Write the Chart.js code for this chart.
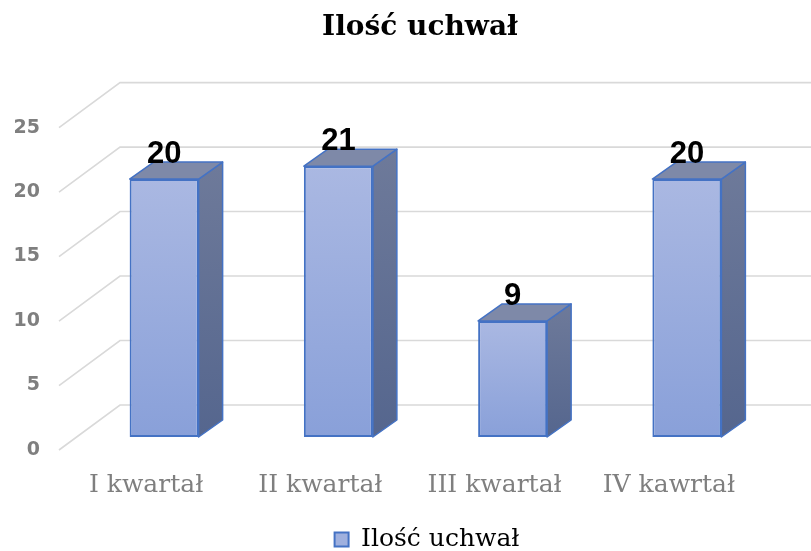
<!DOCTYPE html>
<html><head><meta charset="utf-8">
<script src="https://cdn.jsdelivr.net/npm/chart.js@4.4.1/dist/chart.umd.min.js"></script>
<style>html,body{margin:0;padding:0;background:#fff;overflow:hidden}#wrap{width:811px;height:551px}</style>
</head><body><div id="wrap"><canvas id="c" width="811" height="551"></canvas></div>
<script>
const categories = ['I kwartał', 'II kwartał', 'III kwartał', 'IV kawrtał'];
const values = [20, 21, 9, 20];
const seriesName = 'Ilość uchwał';
const chartTitle = 'Ilość uchwał';
const yMin = 0, yMax = 25, yStep = 5;

// 3D geometry (pixels)
const BAR_DX = 24, BAR_DY = 17;
const WALL_DX = 43, WALL_DY = 32;
const FLOOR_DX = 18, FLOOR_DY = 13;

const wallPlugin = {
  id: 'wall3d',
  beforeDatasetsDraw(chart) {
    const {ctx, chartArea, scales: {y}} = chart;
    ctx.save();
    ctx.strokeStyle = '#D9D9D9';
    ctx.lineWidth = 1.6;
    y.ticks.forEach(t => {
      const yb = y.getPixelForValue(t.value);
      ctx.beginPath();
      ctx.moveTo(chartArea.left - FLOOR_DX, yb + FLOOR_DY);
      ctx.lineTo(chartArea.left + WALL_DX, yb - WALL_DY);
      ctx.lineTo(chart.width, yb - WALL_DY);
      ctx.stroke();
    });
    ctx.restore();
  }
};

const barPlugin = {
  id: 'bar3d',
  afterDatasetsDraw(chart) {
    const {ctx} = chart;
    const meta = chart.getDatasetMeta(0);
    ctx.save();
    meta.data.forEach((bar, i) => {
      const p = bar.getProps(['x', 'y', 'base', 'width'], true);
      const l = p.x - p.width / 2, r = p.x + p.width / 2, t = p.y, b = p.base;
      const g = ctx.createLinearGradient(0, t - BAR_DY, 0, b);
      g.addColorStop(0, '#6E7A9A');
      g.addColorStop(1, '#55668E');
      ctx.beginPath();
      ctx.moveTo(r, t); ctx.lineTo(r + BAR_DX, t - BAR_DY);
      ctx.lineTo(r + BAR_DX, b - BAR_DY); ctx.lineTo(r, b); ctx.closePath();
      ctx.fillStyle = g; ctx.fill();
      ctx.strokeStyle = '#4472C4'; ctx.lineWidth = 1.5; ctx.lineJoin = 'round';
      ctx.stroke();
      ctx.beginPath();
      ctx.moveTo(l, t); ctx.lineTo(l + BAR_DX, t - BAR_DY);
      ctx.lineTo(r + BAR_DX, t - BAR_DY); ctx.lineTo(r, t); ctx.closePath();
      ctx.fillStyle = '#7E89A8'; ctx.fill();
      ctx.stroke();
    });
    ctx.fillStyle = '#000';
    ctx.font = 'bold 31px "Liberation Sans", Arial, sans-serif';
    ctx.textAlign = 'center';
    ctx.textBaseline = 'alphabetic';
    meta.data.forEach((bar, i) => {
      const p = bar.getProps(['x', 'y'], true);
      ctx.fillText(String(chart.data.datasets[0].data[i]), p.x, p.y - 16);
    });
    ctx.restore();
  }
};

const shiftPlugin = {
  id: 'shiftBoxes',
  afterLayout(chart) {
    const lg = chart.legend;
    if (lg) { lg.left += 40; lg.right += 40; lg.top += 11; lg.bottom += 11; }
    const tt = chart.titleBlock;
    if (tt) { tt.left += 33; tt.right += 33; }
  }
};

new Chart(document.getElementById('c'), {
  type: 'bar',
  data: {
    labels: categories,
    datasets: [{
      label: seriesName,
      data: values,
      backgroundColor: (c) => {
        const chart = c.chart;
        if (!chart.chartArea || c.type !== 'data') return '#9DAEDD';
        const ys = chart.scales.y;
        const top = ys.getPixelForValue(c.parsed.y), bot = ys.getPixelForValue(0);
        const g = chart.ctx.createLinearGradient(0, top, 0, bot);
        g.addColorStop(0, '#AAB8E2');
        g.addColorStop(1, '#89A0D9');
        return g;
      },
      borderColor: '#4472C4',
      borderWidth: 2,
      borderSkipped: false,
      categoryPercentage: 1,
      barPercentage: 0.396
    }]
  },
  options: {
    responsive: false,
    animation: false,
    devicePixelRatio: 1,
    layout: { padding: { left: 0, right: 37, top: 0, bottom: 0 } },
    plugins: {
      title: {
        display: true, text: chartTitle, color: '#000',
        font: { family: '"DejaVu Serif", serif', weight: 'bold', size: 28 },
        padding: { top: 11, bottom: 70 }
      },
      legend: {
        display: true, position: 'bottom',
        labels: {
          color: '#7F7F7F', boxWidth: 14, boxHeight: 14, padding: 0,
          font: { family: '"DejaVu Serif", serif', size: 25 },
          generateLabels: (chart) => [{
            text: chart.data.datasets[0].label, fillStyle: '#9FB0DE',
            strokeStyle: '#4472C4', lineWidth: 2, datasetIndex: 0, hidden: false
          }]
        }
      },
      tooltip: { enabled: false }
    },
    scales: {
      x: {
        grid: { display: false, drawTicks: false },
        border: { display: false },
        ticks: { color: '#7F7F7F', padding: 33, labelOffset: -18, font: { family: '"DejaVu Serif", serif', size: 25 } },
        afterFit: (s) => { s.height = 79; }
      },
      y: {
        min: yMin, max: yMax,
        grid: { display: false, drawTicks: false },
        border: { display: false },
        ticks: {
          stepSize: yStep, color: '#7F7F7F', padding: 37, labelOffset: 13,
          font: { family: '"DejaVu Sans", sans-serif', weight: 'bold', size: 19 }
        },
        afterFit: (s) => { s.width = 77; }
      }
    }
  },
  plugins: [wallPlugin, barPlugin, shiftPlugin]
});
</script>
</body></html>
